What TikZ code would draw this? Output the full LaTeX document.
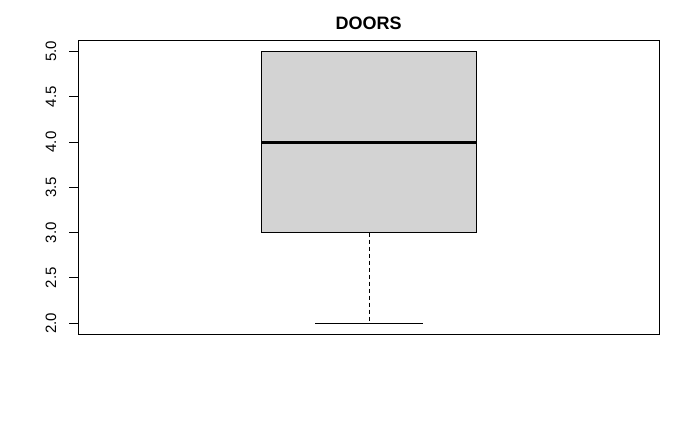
\documentclass[tikz,border=0pt]{standalone}
\usepackage{fontspec}
\setmainfont{Liberation Sans}
\usetikzlibrary{positioning}
\definecolor{boxgray}{HTML}{D3D3D3}
\tikzstyle{base}=[x=1pt, y=-1pt, line width=1pt]
\tikzstyle{ticklabel}=[inner sep=0pt, outer sep=0pt, rotate=90, anchor=base, font=\fontsize{15}{15}\selectfont]
\tikzstyle{whisker}=[dash pattern=on 4pt off 3pt]

\begin{document}
\begin{tikzpicture}[base]
        \useasboundingbox (0,0) rectangle (700,432);
        % box, median, whisker
        \coordinate (q1) at (261,232.6);
        \coordinate (q3) at (476,51.3);
        \coordinate (medl) at (261,142);
        \coordinate (medr) at (476,142);
        \coordinate (wtop) at (369,232.6);
        \coordinate (wbot) at (369,323.3);
        \coordinate (capl) at (315,323.3);
        \coordinate (capr) at (423,323.3);
        \draw[fill=boxgray] (q1) rectangle (q3);
        \draw[line width=3pt] (medl) -- (medr);
        \draw[whisker] (wtop) -- (wbot);
        \draw (capl) -- (capr);
        % frame
        \draw (78.5,40.5) rectangle (659.5,334);
        % y axis
        \foreach \v/\y [count=\i] in {5.0/51.3, 4.5/96.6, 4.0/142.0, 3.5/187.3, 3.0/232.6, 2.5/277.9, 2.0/323.3} {
            \draw (69,\y) -- (78.5,\y);
            \node[ticklabel] (tick\i) at (56,\y) {\v};
        }
        \node[anchor=base, inner sep=0pt, font=\fontsize{18}{18}\selectfont\bfseries] (title) at (368.7,29.3) {DOORS};
    \end{tikzpicture}
\end{document}
